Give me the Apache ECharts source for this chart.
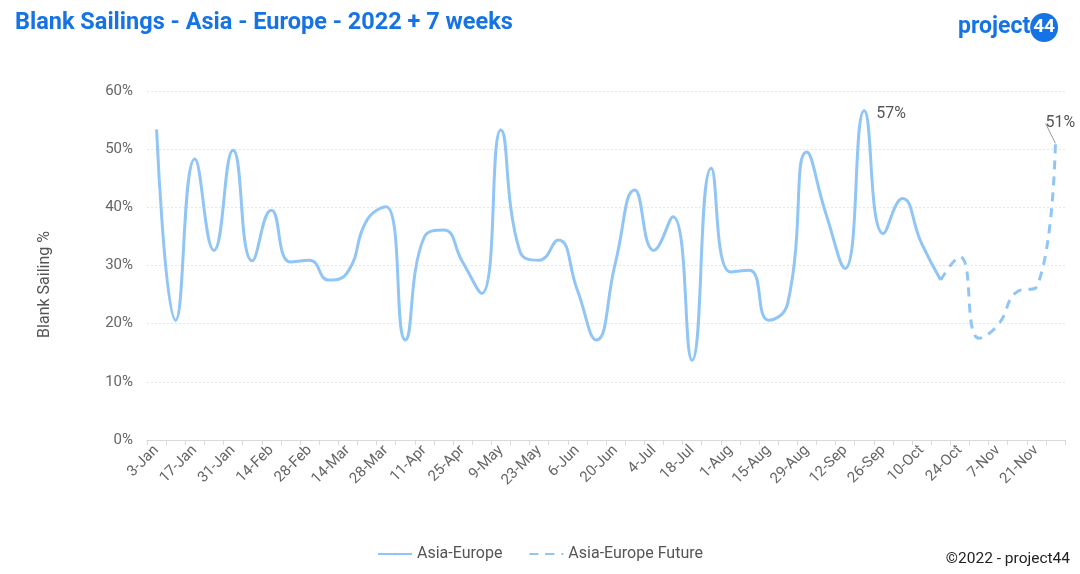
<!DOCTYPE html>
<html>
<head>
<meta charset="utf-8">
<script src="https://cdn.jsdelivr.net/npm/echarts@6/dist/echarts.min.js"></script>
<style>
html,body{margin:0;padding:0;background:#fff;}
#chart{width:1080px;height:574px;}
</style>
</head>
<body>
<div id="chart"></div>
<script>
var categories = ['3-Jan','10-Jan','17-Jan','24-Jan','31-Jan','7-Feb','14-Feb','21-Feb','28-Feb','7-Mar','14-Mar','21-Mar','28-Mar','4-Apr','11-Apr','18-Apr','25-Apr','2-May','9-May','16-May','23-May','30-May','6-Jun','13-Jun','20-Jun','27-Jun','4-Jul','11-Jul','18-Jul','25-Jul','1-Aug','8-Aug','15-Aug','22-Aug','29-Aug','5-Sep','12-Sep','19-Sep','26-Sep','3-Oct','10-Oct','17-Oct','24-Oct','31-Oct','7-Nov','14-Nov','21-Nov','28-Nov'];
// Actual weekly blank sailing share (%), 3-Jan .. 17-Oct
var asiaEurope = [53.4,20.6,48.3,32.6,49.8,30.8,39.5,30.6,30.9,27.5,28.9,37.8,40.1,17.2,34.9,36.1,30.6,25.2,53.3,32.4,30.9,34.4,25.8,17.2,30.6,43.0,32.6,38.4,13.7,46.7,28.9,29.2,20.6,23.5,49.5,38.9,29.5,56.6,35.5,41.5,33.8,27.5];
// Forecast, 17-Oct .. 28-Nov
var asiaEuropeFuture = [27.5,31.5,17.5,19.8,25.5,26.3,51];
var futureStart = 41;
var yTicks = [0,10,20,30,40,50,60];

var lineColor = '#90C5F5';
function pct(p){ return Math.round(p.value) + '%'; }
var solidData = asiaEurope.map(function(v, i){
  if (i === 37) return {value: v, label: {show: true, position: 'right', distance: 12, offset: [0,3], formatter: pct}};
  return v;
});
var futureData = categories.map(function(c, i){
  if (i < futureStart) return null;
  var v = asiaEuropeFuture[i - futureStart];
  if (i === categories.length - 1) return {value: v, label: {show: true, position: 'top', distance: 10, formatter: pct}};
  return v;
});

var chart = echarts.init(document.getElementById('chart'));
chart.setOption({
  animation: false,
  textStyle: {fontFamily: 'Roboto'},
  title: [{
    text: 'Blank Sailings - Asia - Europe - 2022 + 7 weeks',
    left: 10, top: 6,
    textStyle: {fontFamily: 'Roboto', fontWeight: 'bold', fontSize: 23.5, color: '#1673E6'}
  },{
    text: '{p|project}{n|44}',
    right: 17, top: 8,
    textStyle: {rich: {
      p: {fontFamily: 'Roboto', fontWeight: 'bold', fontSize: 23, color: '#1673E6'},
      n: {fontFamily: 'Roboto', fontWeight: 'bold', fontSize: 19, color: '#fff', backgroundColor: '#1673E6', borderRadius: 16, padding: [5,3,5,3]}
    }}
  },{
    text: '©2022 - project44',
    right: 5, top: 546,
    textStyle: {fontFamily: 'Roboto', fontWeight: 'normal', fontSize: 15.5, color: '#222'}
  }],
  legend: {
    bottom: 7, left: 'center',
    itemWidth: 34, itemHeight: 3, itemGap: 26,
    textStyle: {fontSize: 16, color: '#555'},
    data: ['Asia-Europe','Asia-Europe Future']
  },
  grid: {left: 147, right: 15, top: 91, bottom: 134},
  xAxis: {
    type: 'category',
    data: categories,
    boundaryGap: true,
    axisLine: {lineStyle: {color: '#d9d9d9'}},
    axisTick: {show: true, interval: 0, length: 5, lineStyle: {color: '#d9d9d9'}},
    axisLabel: {interval: 1, rotate: 45, fontSize: 15, color: '#666', margin: 8}
  },
  yAxis: {
    type: 'value',
    min: yTicks[0], max: yTicks[yTicks.length-1], interval: 10,
    name: 'Blank Sailing %',
    nameLocation: 'middle', nameGap: 94, nameRotate: 90,
    nameTextStyle: {fontSize: 16, color: '#555', padding: [0, 38, 0, 0]},
    axisLine: {show: false},
    axisTick: {show: false},
    axisLabel: {formatter: '{value}%', fontSize: 15, color: '#666', margin: 14},
    splitLine: {lineStyle: {color: '#e6e6e6', type: [2,2]}}
  },
  series: [{
    name: 'Asia-Europe',
    type: 'line',
    data: solidData,
    smooth: 0.5,
    showSymbol: true,
    showAllSymbol: true,
    symbol: 'circle',
    symbolSize: 0,
    lineStyle: {color: lineColor, width: 3},
    itemStyle: {color: lineColor},
    label: {fontSize: 16, color: '#555'}
  },{
    name: 'Asia-Europe Future',
    type: 'line',
    data: futureData,
    smooth: 0.5,
    showSymbol: true,
    showAllSymbol: true,
    symbol: 'circle',
    symbolSize: 0,
    lineStyle: {color: lineColor, width: 3, type: [9,7]},
    itemStyle: {color: lineColor},
    label: {fontSize: 16, color: '#555'},
    labelLayout: function(p){ return {dy: -2, dx: 5}; },
    labelLine: {show: true, length2: 0, lineStyle: {color: '#999', width: 1}}
  }]
});
</script>
</body>
</html>
